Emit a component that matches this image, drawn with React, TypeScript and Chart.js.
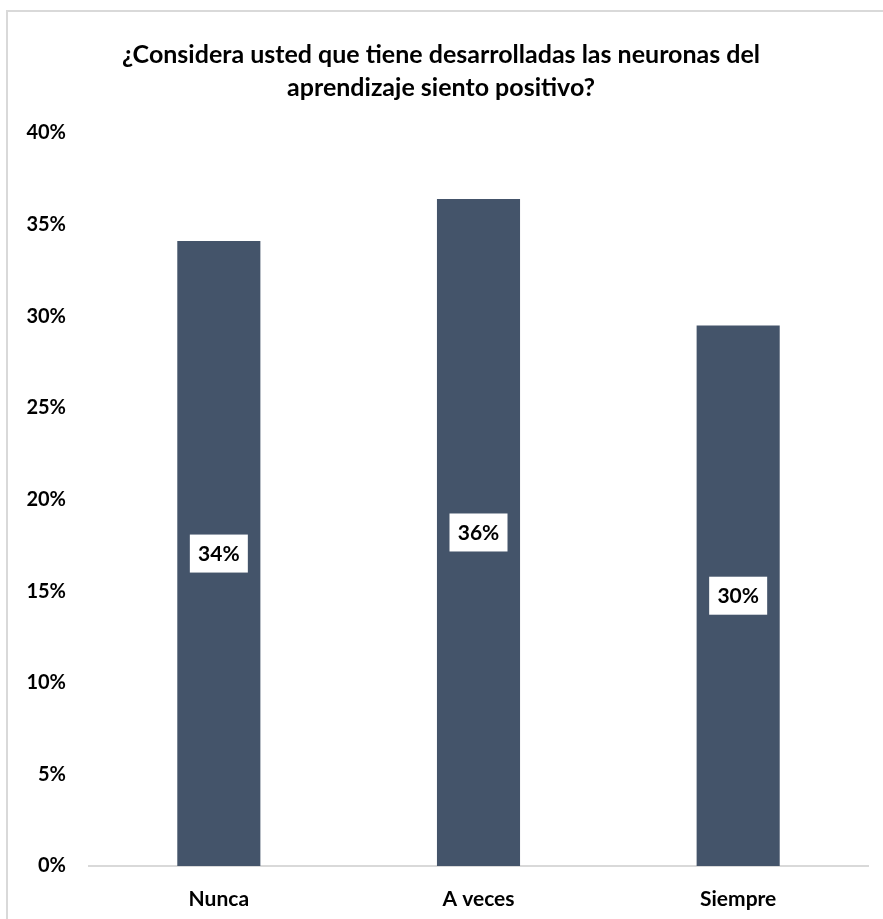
import React, { useEffect, useRef } from "react";
import { Chart, registerables } from "chart.js";

Chart.register(...registerables);

const titleLines = [
  "¿Considera usted que tiene desarrolladas las neuronas del",
  "aprendizaje siento positivo?",
];
const categories = ["Nunca", "A veces", "Siempre"];
const values = [34.1, 36.4, 29.5];
const valueLabels = ["34%", "36%", "30%"];
const yMax = 40;
const yStep = 5;

const FONT = "Lato, 'Open Sans', sans-serif";

const titlePlugin = {
  id: "customTitle",
  afterDraw(chart: any) {
    const ctx = chart.ctx;
    ctx.save();
    ctx.font = `bold 25px ${FONT}`;
    ctx.fillStyle = "#000";
    ctx.textAlign = "center";
    ctx.textBaseline = "middle";
    titleLines.forEach((t, i) => ctx.fillText(t, 441, 55 + i * 33));
    ctx.restore();
  },
};

const labelPlugin = {
  id: "boxLabels",
  afterDatasetsDraw(chart: any) {
    const ctx = chart.ctx;
    const meta = chart.getDatasetMeta(0);
    ctx.save();
    meta.data.forEach((bar: any, i: number) => {
      const cx = bar.x;
      const cy = (bar.y + bar.base) / 2;
      ctx.fillStyle = "#fff";
      ctx.fillRect(cx - 29, cy - 19, 58, 38);
      ctx.fillStyle = "#000";
      ctx.font = `bold 21px ${FONT}`;
      ctx.textAlign = "center";
      ctx.textBaseline = "middle";
      ctx.fillText(valueLabels[i], cx, cy + 1);
    });
    ctx.restore();
  },
};

export default function App() {
  const ref = useRef<HTMLCanvasElement>(null);
  useEffect(() => {
    if (!ref.current) return;
    const chart = new Chart(ref.current, {
      type: "bar",
      data: {
        labels: categories,
        datasets: [
          {
            data: values,
            backgroundColor: "#44546A",
            barPercentage: 0.64,
            categoryPercentage: 0.5,
          },
        ],
      },
      options: {
        animation: false,
        responsive: false,
        maintainAspectRatio: false,
        layout: { padding: { top: 133, right: 15, left: 0, bottom: 0 } },
        plugins: {
          legend: { display: false },
          title: { display: false },
          tooltip: { enabled: false },
        },
        scales: {
          x: {
            grid: { display: false },
            border: { display: true, color: "#d9d9d9", width: 2 },
            afterFit(scale: any) {
              scale.height = 53;
            },
            ticks: {
              color: "#000",
              font: { family: FONT, weight: "bold", size: 21 },
              padding: 13,
            },
          },
          y: {
            min: 0,
            max: yMax,
            grid: { display: false },
            border: { display: false },
            afterFit(scale: any) {
              scale.width = 89;
            },
            ticks: {
              stepSize: yStep,
              color: "#000",
              padding: 15,
              font: { family: FONT, weight: "bold", size: 20 },
              callback: (v: any) => `${v}%`,
            },
          },
        },
      },
      plugins: [titlePlugin, labelPlugin],
    });
    return () => chart.destroy();
  }, []);
  return (
    <div
      style={{
        position: "fixed",
        left: 0,
        top: 0,
        width: 883,
        height: 919,
        background: "#fff",
        overflow: "hidden",
      }}
    >
      <div
        style={{
          position: "absolute",
          left: 6,
          top: 10,
          width: 900,
          height: 940,
          border: "2px solid #d9d9d9",
          boxSizing: "border-box",
        }}
      />
      <canvas
        ref={ref}
        width={883}
        height={919}
        style={{ position: "absolute", left: 0, top: 0 }}
      />
    </div>
  );
}
